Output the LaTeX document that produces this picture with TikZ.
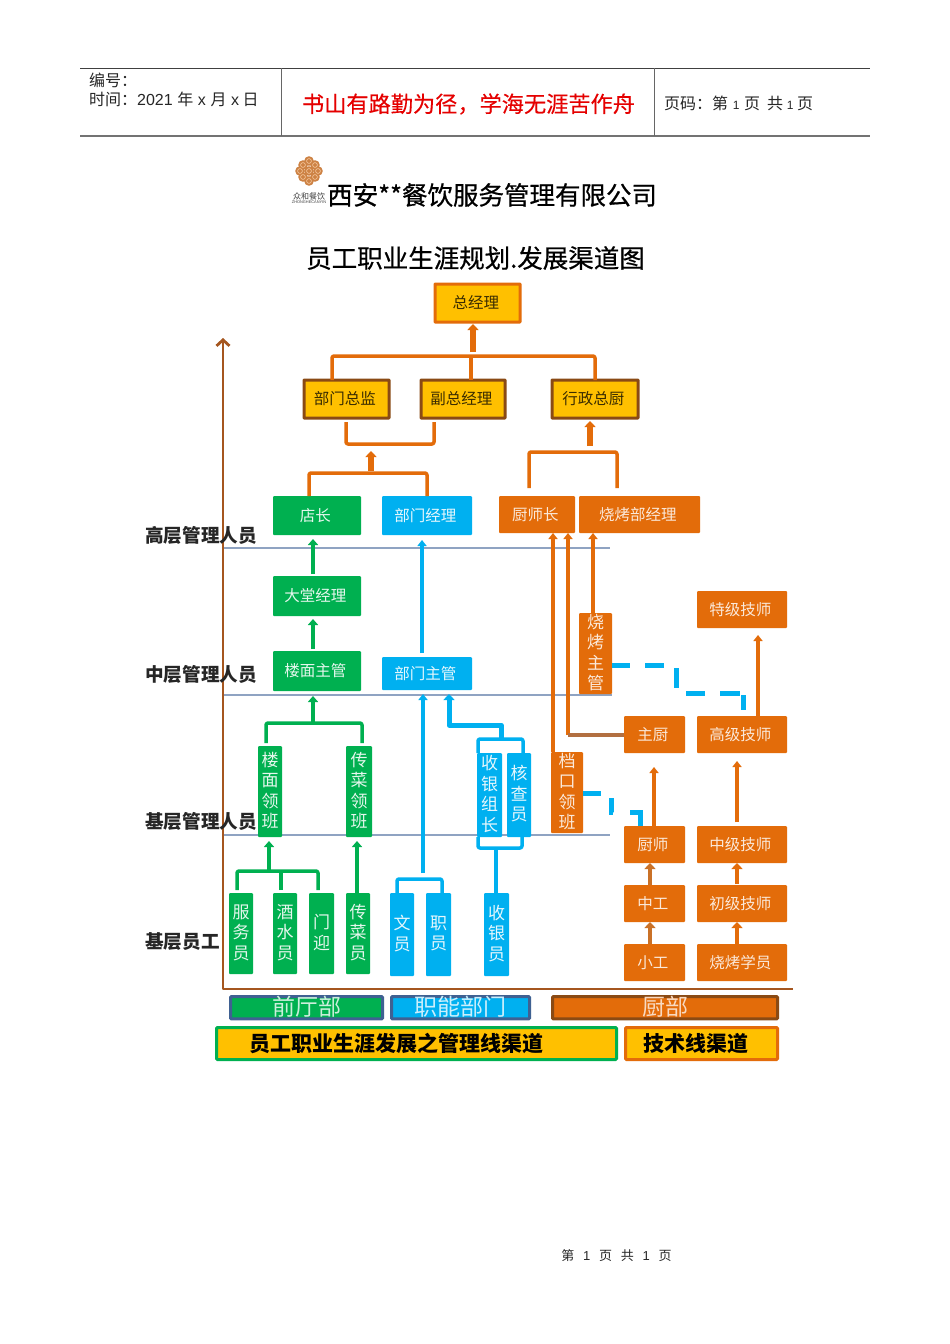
\documentclass[tikz,border=0pt]{standalone}
\usepackage{fontspec}
\setmainfont{Noto Sans CJK SC}
\newfontfamily\latinf{Liberation Sans}
\newfontfamily\heavyf[FakeBold=0.6]{Noto Sans CJK SC}
\newfontfamily\semif[FakeBold=0.3]{Noto Sans CJK SC}
\usetikzlibrary{arrows.meta,calc}
\definecolor{cOr}{HTML}{E36C0A}
\definecolor{cGr}{HTML}{00B050}
\definecolor{cBl}{HTML}{00B0F0}
\definecolor{cYe}{HTML}{FFC000}
\definecolor{cBr}{HTML}{A5561F}
\definecolor{cDk}{HTML}{8A4A14}
\definecolor{cNv}{HTML}{3F6192}
\definecolor{cLn}{HTML}{8FA3C2}
\definecolor{cTx}{HTML}{3A2C00}
\tikzset{
  x=1pt,y=-1pt,
  fs/.style={font=\fontsize{#1}{30}\selectfont},
  bxbase/.style={inner sep=0pt,outer sep=0pt,rounded corners=1pt,align=center},
  gbox/.style={bxbase,fill=cGr,text=white!90!cGr,font=\fontsize{15.5}{18}\selectfont},
  bbox/.style={bxbase,fill=cBl,text=white!90!cBl,font=\fontsize{15.5}{18}\selectfont},
  obox/.style={bxbase,fill=cOr,text=white!85!cOr,font=\fontsize{15.5}{18}\selectfont},
  gv/.style={gbox,text depth=3.5pt,font=\fontsize{17}{20.5}\selectfont},
  bv/.style={bbox,text depth=3.5pt,font=\fontsize{17}{20.5}\selectfont},
  ov/.style={obox,text depth=3.5pt,font=\fontsize{17}{20.5}\selectfont},
  ytop/.style={bxbase,fill=cYe,draw=cOr,line width=3pt,rounded corners=0.5pt,text=cTx,font=\fontsize{15.5}{18}\selectfont},
  ydark/.style={ytop,draw=cDk},
  dept/.style={bxbase,line width=3pt,font=\fontsize{23}{24}\selectfont},
  chan/.style={bxbase,fill=cYe,line width=3pt,text=black,font=\fontsize{21}{24}\selectfont\bfseries},
  lvl/.style={inner sep=0pt,anchor=west,text=black!85,font=\fontsize{18.6}{20}\selectfont\bfseries},
  ln/.style={line join=round},
  obus/.style={ln,draw=cOr,line width=3.5pt,rounded corners=2pt},
  gbus/.style={ln,draw=cGr,line width=3.5pt,rounded corners=2pt},
  bbus/.style={ln,draw=cBl,line width=3.5pt,rounded corners=2pt},
  tip/.style={-{Triangle[width=#1,length=6pt]}},
  oar/.style={draw=cOr,line width=5.5pt,tip=11pt},
  oth/.style={draw=cOr,line width=3.5pt,tip=9pt},
  gar/.style={draw=cGr,line width=4pt,tip=10pt},
  bar/.style={draw=cBl,line width=4pt,tip=9pt},
  dsh/.style={draw=cBl,line width=5pt,line join=miter},
  lvline/.style={draw=cLn,line width=1.3pt},
}
\newcommand\pbox[7]{%
  \pgfmathsetmacro\mycx{(#3+#5)/2}\pgfmathsetmacro\mycy{(#4+#6)/2}%
  \pgfmathsetmacro\myw{#5-#3}\pgfmathsetmacro\myh{#6-#4}%
  \node[#2,minimum width=\myw pt,minimum height=\myh pt] (#1) at (\mycx,\mycy) {#7};}
\newcommand\hb[1]{\raisebox{1pt}{#1}\hspace*{3.5pt}}
\begin{document}
\begin{tikzpicture}
\useasboundingbox[fill=white] (0,0) rectangle (950,1344);
% header
\coordinate (hl1) at (80,68); \coordinate (hr1) at (870,68);
\coordinate (hl2) at (80,136); \coordinate (hr2) at (870,136);
\coordinate (hv1a) at (281,68); \coordinate (hv1b) at (281,136);
\coordinate (hv2a) at (654,68); \coordinate (hv2b) at (654,136);
\draw[black!75,line width=1pt] (hl1) -- (hr1);
\draw[black!55,line width=1.6pt] (hl2) -- (hr2);
\draw[black!60,line width=1pt] (hv1a) -- (hv1b);
\draw[black!60,line width=1pt] (hv2a) -- (hv2b);
\node[anchor=west,inner sep=0,fs=16,text=black!85] (hnum) at (89,80) {编号：};
\node[anchor=west,inner sep=0,fs=16,text=black!85] (htime) at (89,99) {时间：{\latinf 2021}\hspace{1pt} 年\hspace{1pt} {\latinf x} \hspace{1pt}月\hspace{1pt} {\latinf x} 日};
\node[anchor=center,inner sep=0,fs=22.2,text=red!90!black] (hmotto) at (468.5,104) {\semif 书山有路勤为径，学海无涯苦作舟};
\node[anchor=west,inner sep=0,fs=16,text=black!85] (hpage) at (664,103) {页码：第\hspace{1pt} {\latinf\fontsize{12}{14}\selectfont 1} \hspace{1pt}页\ \ 共 {\latinf\fontsize{12}{14}\selectfont 1} 页};
% logo
\foreach \px/\py in {309/161,303/165,315/165,300/171,309/171,318/171,303/177,315/177,309/181}
  \fill[cBr!70!orange!80!white] (\px,\py) circle (4.8pt);
\foreach \px/\py in {309/161,303/165,315/165,300/171,309/171,318/171,303/177,315/177,309/181}
  \draw[white!70!orange,line width=.5pt] (\px,\py) circle (2.4pt);
\node[inner sep=0,fs=8,text=black!75] (logot) at (309,196) {众和餐饮};
\node[inner sep=0,fs=3.9,text=black!75] (logol) at (309,202) {\latinf ZHONGHECANYIN};
% titles
\node[anchor=west,inner sep=0,fs=25.5,text=black] (t1) at (327,195) {\heavyf 西安**餐饮服务管理有限公司};
\node[anchor=center,inner sep=0,fs=25.5,text=black] (t2) at (475.5,258) {\heavyf 员工职业生涯规划.发展渠道图};
% level lines
\coordinate (l1a) at (223,548); \coordinate (l1b) at (610,548);
\coordinate (l2a) at (223,695); \coordinate (l2b) at (612,695);
\coordinate (l3a) at (223,835); \coordinate (l3b) at (610,835);
\draw[lvline] (l1a) -- (l1b);
\draw[lvline] (l2a) -- (l2b);
\draw[lvline] (l3a) -- (l3b);
% axis
\coordinate (axt) at (223,338); \coordinate (axo) at (223,989); \coordinate (axr) at (793,989);
\draw[draw=cBr,line width=2.8pt,line join=round,{Straight Barb[width=13pt,length=6pt,line width=2.8pt]}-] (axt) -- (axo) -- (axr);
% level labels
\node[lvl] (lv1) at (145,535) {高层管理人员};
\node[lvl] (lv2) at (145,674) {中层管理人员};
\node[lvl] (lv3) at (145,821) {基层管理人员};
\node[lvl] (lv4) at (145,942) {基层员工};
% yellow boxes
\pbox{zjl}{ytop}{435}{284}{520}{322}{\hb{总经理}}
\pbox{bmzj}{ydark}{304}{380}{389}{418}{\hb{部门总监}}
\pbox{fzjl}{ydark}{421}{380}{505}{418}{\hb{副总经理}}
\pbox{xzzc}{ydark}{552}{380}{638}{418}{\hb{行政总厨}}
% green
\pbox{dz}{gbox}{273}{496}{361}{535}{\hb{店长}}
\pbox{dtjl}{gbox}{273}{576}{361}{616}{\hb{大堂经理}}
\pbox{lmzg}{gbox}{273}{651}{361}{691}{\hb{楼面主管}}
\pbox{lmlb}{gv}{258}{746}{282}{837}{楼\\面\\领\\班}
\pbox{cclb}{gv}{346}{746}{372}{837}{传\\菜\\领\\班}
\pbox{fwy}{gv}{229}{893}{253}{974}{服\\务\\员}
\pbox{jsy}{gv}{273}{893}{297}{974}{酒\\水\\员}
\pbox{my}{gv}{309}{893}{334}{974}{门\\迎}
\pbox{ccy}{gv}{346}{893}{370}{974}{传\\菜\\员}
% blue
\pbox{bmjl}{bbox}{382}{496}{472}{535}{\hb{部门经理}}
\pbox{bmzg}{bbox}{382}{657}{472}{690}{\hb{部门主管}}
\pbox{syzz}{bv}{477}{753}{502}{837}{收\\银\\组\\长}
\pbox{hcy}{bv}{507}{753}{531}{837}{核\\查\\员}
\pbox{wy}{bv}{390}{893}{414}{976}{文\\员}
\pbox{zy}{bv}{426}{893}{451}{976}{职\\员}
\pbox{syy}{bv}{484}{893}{509}{976}{收\\银\\员}
% orange
\pbox{csz}{obox}{499}{496}{575}{533}{\hb{厨师长}}
\pbox{skjl}{obox}{579}{496}{700}{533}{\hb{烧烤部经理}}
\pbox{tjjs}{obox}{697}{591}{787}{628}{\hb{特级技师}}
\pbox{skzg}{ov}{579}{613}{612}{694}{烧\\烤\\主\\管}
\pbox{zc}{obox}{624}{716}{685}{753}{\hb{主厨}}
\pbox{gjjs}{obox}{697}{716}{787}{753}{\hb{高级技师}}
\pbox{dklb}{ov}{551}{752}{583}{833}{档\\口\\领\\班}
\pbox{cs}{obox}{624}{826}{685}{863}{\hb{厨师}}
\pbox{zjjs}{obox}{697}{826}{787}{863}{\hb{中级技师}}
\pbox{zg}{obox}{624}{885}{685}{922}{\hb{中工}}
\pbox{cjjs}{obox}{697}{885}{787}{922}{\hb{初级技师}}
\pbox{xg}{obox}{624}{944}{685}{981}{\hb{小工}}
\pbox{skxy}{obox}{697}{944}{787}{981}{\hb{烧烤学员}}
% departments and channels
\pbox{qtb}{dept,fill=cGr,draw=cNv,text=white!80!cGr}{230.5}{997.5}{382.5}{1018}{\raisebox{3pt}{前厅部}}
\pbox{znbm}{dept,fill=cBl,draw=cNv,text=white!80!cBl}{391.5}{997.5}{529.5}{1018}{\raisebox{3pt}{职能部门}}
\pbox{cb}{dept,fill=cOr,draw=cDk,text=white!75!cOr}{552.5}{997.5}{777.5}{1018}{\raisebox{3pt}{厨部}}
\pbox{glx}{chan,draw=cGr}{216.5}{1027.5}{616.5}{1059.5}{员工职业生涯发展之管理线渠道\hspace*{41pt}}
\pbox{jsx}{chan,draw=cOr}{625.5}{1027.5}{777.5}{1059.5}{技术线渠道\hspace*{11pt}}
% top bus
\coordinate (b1l) at (332,356); \coordinate (b1m) at (471,356); \coordinate (b1r) at (595,356);
\coordinate (b1a) at (473,352);
\draw[obus] (bmzj.north -| b1l) -- (b1l) -- (b1r) -- (xzzc.north -| b1r);
\draw[obus] (fzjl.north -| b1m) -- (b1m);
\draw[oar,shorten >=2pt] (b1a) -- (b1a |- zjl.south);
% U under directors
\coordinate (u1l) at (346,444); \coordinate (u1r) at (434,444);
\draw[obus,shorten <=4pt,shorten >=4pt] (bmzj.south -| u1l) -- (u1l) -- (u1r) -- (fzjl.south -| u1r);
\coordinate (u1a) at (371,471); \coordinate (u1t) at (371,451);
\draw[oar] (u1a) -- (u1t);
\coordinate (b2l) at (309,473); \coordinate (b2r) at (427,473);
\draw[obus] (dz.north -| b2l) -- (b2l) -- (b2r) -- (bmjl.north -| b2r);
% exec chef
\coordinate (b3a) at (590,446);
\draw[oar,shorten >=3pt] (b3a) -- (b3a |- xzzc.south);
\coordinate (b3l) at (529,452); \coordinate (b3r) at (617,452);
\draw[obus,shorten <=8pt,shorten >=8pt] (csz.north -| b3l) -- (b3l) -- (b3r) -- (skjl.north -| b3r);
% chef-line risers
\coordinate (r1) at (553,752); \coordinate (r2) at (568,735); \coordinate (r3) at (593,613);
\draw[oth] (r1) -- (r1 |- csz.south);
\draw[oth] (r2) -- (r2 |- csz.south);
\draw[oth] (r3) -- (r3 |- skjl.south);
\draw[draw=cBr!85!white,line width=4pt] (r2) -- (r2 -| zc.west);
% dashed
\coordinate (d1) at (676,665); \coordinate (d2) at (676,693); \coordinate (d3) at (743,693); \coordinate (d4) at (743,710);
\draw[dsh,dash pattern=on 18pt off 15pt on 19pt off 15pt on 20pt off 15pt on 19pt off 15pt on 20pt off 5pt on 15pt off 40pt] (d1 -| skzg.east) -- (d1) -- (d2) -- (d3) -- (d4);
\coordinate (e1) at (611,793); \coordinate (e2) at (611,812); \coordinate (e3) at (640,812);
\draw[dsh,dash pattern=on 18pt off 15pt on 16pt off 17pt on 24pt off 40pt] (e1 -| dklb.east) -- (e1) -- (e2) -- (e3) -- (e3 |- cs.north);
% chef ladder
\coordinate (a1) at (758,716); \draw[oth,shorten >=7pt] (a1) -- (a1 |- tjjs.south);
\coordinate (a2) at (654,826); \coordinate (a2t) at (654,767); \draw[oth] (a2) -- (a2t);
\coordinate (a3) at (737,822); \coordinate (a3t) at (737,761); \draw[oth] (a3) -- (a3t);
\coordinate (a4) at (650,885); \draw[draw=cOr!75!gray,line width=4pt,tip=11pt] (a4) -- (a4 |- cs.south);
\coordinate (a5) at (650,944); \draw[draw=cOr!75!gray,line width=4pt,tip=11pt] (a5) -- (a5 |- zg.south);
\coordinate (a6) at (737,884); \draw[oar,line width=4.5pt] (a6) -- (a6 |- zjjs.south);
\coordinate (a7) at (737,944); \draw[oar,line width=4pt] (a7) -- (a7 |- cjjs.south);
% green arrows
\coordinate (g0) at (313,576); \draw[gar,shorten <=2pt,shorten >=4pt] (g0) -- (g0 |- dz.south);
\coordinate (g1) at (313,651); \draw[gar,shorten <=2pt,shorten >=3pt] (g1) -- (g1 |- dtjl.south);
\coordinate (g2) at (313,723); \coordinate (g2t) at (313,696); \draw[gar] (g2) -- (g2t);
\coordinate (g2l) at (266,723); \coordinate (g2r) at (362,723);
\draw[gbus,shorten <=3pt,shorten >=3pt] (lmlb.north -| g2l) -- (g2l) -- (g2r) -- (cclb.north -| g2r);
\coordinate (g3) at (269,871); \draw[gar,shorten >=4pt] (g3) -- (g3 |- lmlb.south);
\coordinate (g3l) at (237,871); \coordinate (g3m) at (281,871); \coordinate (g3r) at (318,871);
\draw[gbus,shorten <=3pt,shorten >=3pt] (fwy.north -| g3l) -- (g3l) -- (g3r) -- (my.north -| g3r);
\draw[gbus,shorten <=3pt] (jsy.north -| g3m) -- (g3m);
\coordinate (g4) at (357,893); \draw[gar,shorten >=4pt] (g4) -- (g4 |- cclb.south);
% blue arrows
\coordinate (c1) at (422,653); \draw[bar,shorten >=5pt] (c1) -- (c1 |- bmjl.south);
\coordinate (c2) at (423,873); \draw[bar,shorten >=4pt] (c2) -- (c2 |- bmzg.south);
\coordinate (c2l) at (397,879); \coordinate (c2r) at (442,879);
\draw[bbus] (wy.north -| c2l) -- (c2l) -- (c2r) -- (zy.north -| c2r);
\coordinate (c3) at (501,739); \coordinate (c3a) at (501,725); \coordinate (c3b) at (449,725);
\draw[draw=cBl,line width=5pt,tip=11pt,line join=round,shorten >=4pt] (c3) -- (c3a) -- (c3b) -- (c3b |- bmzg.south);
\coordinate (c4l) at (478,739); \coordinate (c4r) at (523,739);
\draw[bbus] (syzz.north -| c4l) -- (c4l) -- (c4r) -- (hcy.north -| c4r);
\coordinate (c5l) at (478,848); \coordinate (c5m) at (496,848); \coordinate (c5r) at (522,848);
\draw[bbus] (syzz.south -| c5l) -- (c5l) -- (c5r) -- (hcy.south -| c5r);
\draw[draw=cBl,line width=4pt] (c5m) -- (syy.north -| c5m);
% footer
\node[inner sep=0,fs=13,text=black!85] (foot) at (616.5,1256) {第\ \ \ {\latinf 1}\ \ \ 页\ \ \ 共\ \ \ {\latinf 1}\ \ \ 页};
\end{tikzpicture}
\end{document}
